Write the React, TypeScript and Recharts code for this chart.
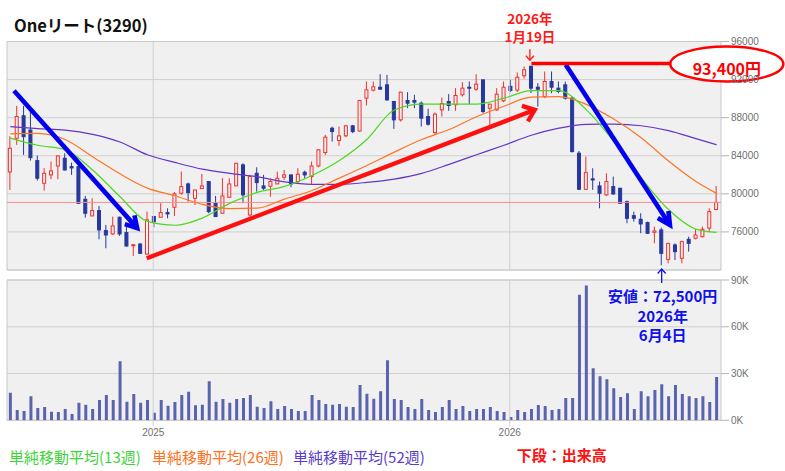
import React from "react";
import {
  ComposedChart,
  Bar,
  Line,
  XAxis,
  YAxis,
  CartesianGrid,
  ReferenceLine,
  ReferenceArea,
  ReferenceDot,
} from "recharts";

// weekly candles, index 0 = mid Aug 2024
const OPEN = [
  82300, 85840, 88200, 86700, 83490, 81110, 81990, 82930, 83740, 82860,
  82860, 79430, 77680, 78240, 76140, 75790, 77540, 75930, 74550, 74730,
  73680, 77610, 77540, 78030, 78590, 80060, 81040, 79530, 80550, 81290,
  79010, 77960, 79640, 80830, 83040, 77780, 82160, 80830, 80800, 81040,
  81740, 81990, 81290, 82270, 81810, 82930, 84340, 86890, 85600, 86090,
  87140, 86600, 90050, 90890, 91200, 91450, 89700, 87770, 89800, 89800,
  89520, 88120, 86440, 88820, 89700, 89350, 90400, 91200, 90990, 91970,
  89000, 88820, 89770, 91300, 90900, 92400, 93400, 91200, 90220, 91800,
  91100, 91450, 90050, 84270, 80480, 81570, 80830, 79890, 80760, 80590,
  79180, 77710, 77330, 76980, 75960, 76210, 73120, 74630, 73230, 75220,
  75330, 75500, 76400, 78350,
];
const HIGH = [
  86050, 89240, 89240, 88820, 84020, 82690, 83390, 84050, 84260, 83280,
  83040, 79780, 79530, 78730, 76730, 77610, 77610, 76630, 74700, 74800,
  78130, 77680, 79010, 78480, 80200, 82340, 81180, 80410, 82090, 81290,
  79780, 81640, 81640, 83210, 83210, 81990, 82790, 81990, 81600, 82340,
  82510, 82000, 82690, 82440, 83390, 84690, 86190, 87070, 87070, 87240,
  87240, 89870, 91800, 91800, 92570, 92500, 89700, 90680, 90680, 90400,
  89700, 88930, 88540, 90120, 90470, 91100, 91730, 91800, 92570, 91970,
  89420, 91100, 91800, 91970, 92750, 93380, 93400, 91620, 92850, 92850,
  91800, 91800, 90220, 84500, 83910, 82690, 81290, 82160, 81810, 80590,
  79290, 78130, 77960, 77080, 76560, 76450, 74800, 74800, 75080, 75500,
  76280, 76560, 78480, 80830,
];
const LOW = [
  80410, 85140, 84090, 83490, 81390, 80340, 81530, 81530, 82440, 81990,
  78940, 77500, 77680, 75220, 74280, 75680, 75580, 74450, 73470, 73680,
  73580, 76490, 77540, 77430, 77680, 79890, 79180, 78830, 80550, 77960,
  77610, 77960, 79640, 80830, 79010, 77610, 80240, 80410, 79700, 81040,
  81460, 80690, 81040, 81640, 81040, 82790, 84090, 85490, 85040, 85950,
  86370, 86540, 89280, 90750, 90990, 89770, 86820, 87590, 89000, 89000,
  87070, 87170, 86260, 88120, 88720, 88720, 90220, 89420, 90820, 88470,
  87170, 88720, 89630, 90680, 90700, 92100, 90600, 89170, 90050, 90570,
  90570, 89900, 84340, 80410, 80410, 80410, 78480, 79780, 79890, 78940,
  76910, 77080, 75860, 75790, 74800, 72500, 72700, 73050, 72700, 73930,
  75220, 75430, 76030, 78350,
];
const CLOSE = [
  84790, 88120, 86000, 83800, 81640, 82160, 82410, 83980, 82510, 82720,
  79010, 77960, 78240, 76210, 75680, 76630, 75790, 74520, 74650, 73750,
  77260, 77080, 78030, 77890, 79990, 80760, 80130, 80410, 80830, 78130,
  77610, 79780, 81040, 83210, 79890, 81810, 81180, 80590, 81300, 81640,
  81990, 81040, 82060, 81990, 82930, 84620, 85950, 86540, 86090, 87140,
  86540, 89800, 90920, 91240, 90990, 89870, 87770, 90680, 89520, 89630,
  87950, 87310, 88370, 89490, 89280, 90330, 91100, 91100, 91520, 88650,
  89420, 90470, 91200, 90850, 92250, 93030, 91100, 90990, 91800, 91200,
  90750, 90050, 84440, 80480, 82230, 81460, 80060, 81290, 79990, 79010,
  77430, 77430, 76840, 75860, 76100, 73750, 74800, 73930, 74980, 74800,
  75680, 76280, 78130, 79100,
];
const VOLUME = [
  17600, 6600, 6000, 15500, 7900, 8500, 5500, 5300, 7200, 4000,
  11300, 10000, 7200, 13000, 16200, 13000, 37900, 11900, 16800, 11300,
  13000, 4900, 13000, 9400, 11700, 16200, 18300, 9600, 10000, 25100,
  11900, 13600, 11300, 13600, 14300, 16200, 8700, 7900, 12300, 7200,
  9100, 7200, 6000, 6000, 16200, 13000, 10400, 10000, 10400, 8700,
  8500, 22600, 17000, 13800, 18700, 38600, 13600, 13000, 8500, 7200,
  13600, 6600, 5300, 8500, 13000, 7200, 9100, 6000, 7200, 7200,
  8500, 6000, 5300, 2100, 6600, 5300, 7200, 9800, 9100, 6600,
  7200, 14300, 14300, 80600, 86400, 33400, 28300, 26400, 20600, 14900,
  17400, 7200, 18700, 15500, 19400, 23200, 15500, 22600, 16800, 15500,
  14300, 15500, 11700, 27700,
];

// moving averages read every 4 weeks
const MA_WEEKS = [0, 4, 8, 12, 16, 20, 24, 28, 32, 36, 40, 44, 48, 52, 56, 60, 64, 68, 72, 76, 80, 84, 88, 92, 96, 100, 103];
const MA13 = [85850, 85100, 84650, 82500, 79700, 77100, 76700, 77450, 79000, 80150, 80780, 81930, 83500, 85700, 88800, 89420, 89420, 89420, 90050, 90850, 90850, 88850, 85500, 81700, 78350, 76300, 75950];
const MA26 = [86300, 86350, 85700, 83900, 82100, 80600, 79800, 78900, 78450, 78500, 79450, 80350, 81650, 82980, 84380, 85700, 86750, 88100, 89200, 90150, 90200, 89400, 87850, 85900, 83450, 81300, 80050];
const MA52 = [87050, 86850, 86700, 86250, 85450, 84100, 83300, 82600, 82150, 81800, 81250, 81000, 81000, 81200, 81550, 82150, 83100, 84100, 85100, 86150, 86900, 87300, 87320, 87150, 86640, 85800, 85150];

const PRICE_TICKS = [72000, 76000, 80000, 84000, 88000, 92000, 96000];
const VOLUME_TICKS = [0, 30000, 60000, 90000];
const YEAR_TICKS = [20.85, 72.84];
const YEAR_LABELS = ["2025", "2026"];
const LAST_PRICE = 79100;
const HIGH_WEEK = 76;
const HIGH_PRICE = 93400;
const LOW_WEEK = 95;

const X_DOMAIN: [number, number] = [-0.48, 103.65];

const RED = "#ee3030";
const BLUE = "#27389d";
const GREEN = "#4cd81e";
const ORANGE = "#ff7622";
const PURPLE = "#6436c8";
const JP = "'Noto Sans CJK JP', sans-serif";
const TICK = { fill: "#707070", fontSize: 10, fontFamily: "'Liberation Sans', Arial, sans-serif" };

type Row = {
  i: number;
  open: number;
  high: number;
  low: number;
  close: number;
  volume: number;
  ma13: number | null;
  ma26: number | null;
  ma52: number | null;
};

const rows: Row[] = OPEN.map((o, i) => ({
  i,
  open: o,
  high: HIGH[i],
  low: LOW[i],
  close: CLOSE[i],
  volume: VOLUME[i],
  ma13: null,
  ma26: null,
  ma52: null,
}));
MA_WEEKS.forEach((w, k) => {
  rows[w].ma13 = MA13[k];
  rows[w].ma26 = MA26[k];
  rows[w].ma52 = MA52[k];
});

function Candle(props: any) {
  const { x, y, width, height, payload } = props;
  if (x == null || payload == null) return null;
  const { open, close, high, low } = payload;
  const top = Math.min(y, y + height);
  const bottom = Math.max(y, y + height);
  const span = high - low || 1;
  const toPx = (v: number) => top + ((high - v) / span) * (bottom - top);
  const up = close >= open;
  const color = up ? RED : BLUE;
  const cx = x + width / 2;
  const bTop = toPx(Math.max(open, close));
  const bBot = toPx(Math.min(open, close));
  return (
    <g>
      <line x1={cx} x2={cx} y1={top} y2={bottom} stroke={color} strokeWidth={1} />
      <rect
        x={x + 0.5}
        y={bTop}
        width={width - 1}
        height={Math.max(bBot - bTop, 1)}
        fill={up ? "#fdeeee" : color}
        stroke={color}
        strokeWidth={1}
      />
    </g>
  );
}

function arrowShape(head: number, spread: number) {
  return (props: any) => {
    const { x1, y1, x2, y2, stroke, strokeWidth } = props;
    const a = Math.atan2(y2 - y1, x2 - x1) + Math.PI;
    const s = (spread * Math.PI) / 180;
    const p1 = [x2 + head * Math.cos(a - s), y2 + head * Math.sin(a - s)];
    const p2 = [x2 + head * Math.cos(a + s), y2 + head * Math.sin(a + s)];
    return (
      <g>
        <line x1={x1} y1={y1} x2={x2} y2={y2} stroke={stroke} strokeWidth={strokeWidth} />
        {head > 0 && (
          <polyline
            points={`${p1[0]},${p1[1]} ${x2},${y2} ${p2[0]},${p2[1]}`}
            fill="none"
            stroke={stroke}
            strokeWidth={strokeWidth}
            strokeLinejoin="miter"
          />
        )}
      </g>
    );
  };
}

function HighNote(props: any) {
  const { cx, cy } = props;
  const tx = cx - 1.5;
  const style = { fontFamily: JP, fontWeight: 700, fontSize: 13.5 };
  return (
    <g>
      <text x={tx} y={cy - 48.5} fill="#ff1a1a" textAnchor="middle" dominantBaseline="central" style={style}>
        2026年
      </text>
      <text x={tx} y={cy - 30} fill="#ff1a1a" textAnchor="middle" dominantBaseline="central" style={style}>
        1月19日
      </text>
      <line x1={tx} y1={cy - 17} x2={tx} y2={cy - 6} stroke="#ff1a1a" strokeWidth={1.3} />
      <polyline
        points={`${tx - 4},${cy - 10.5} ${tx},${cy - 6} ${tx + 4},${cy - 10.5}`}
        fill="none"
        stroke="#ff1a1a"
        strokeWidth={1.3}
      />
    </g>
  );
}

function PriceBubble(props: any) {
  const { cx, cy } = props;
  return (
    <g>
      <ellipse cx={cx} cy={cy} rx={56.5} ry={17.5} fill="#ffffff" stroke="#ff0000" strokeWidth={2.5} />
      <text
        x={cx}
        y={cy + 4}
        fill="#ff0000"
        textAnchor="middle"
        dominantBaseline="central"
        style={{ fontFamily: JP, fontWeight: 700, fontSize: 16 }}
      >
        93,400円
      </text>
    </g>
  );
}

function LowNote(props: any) {
  const { cx, cy } = props;
  const tx = cx + 1;
  const style = { fontFamily: JP, fontWeight: 700, fontSize: 15 };
  return (
    <g>
      <line x1={cx} y1={cy + 3} x2={cx} y2={cy - 11} stroke="#1010ee" strokeWidth={1.3} />
      <polyline
        points={`${cx - 4},${cy - 6.5} ${cx},${cy - 11} ${cx + 4},${cy - 6.5}`}
        fill="none"
        stroke="#1010ee"
        strokeWidth={1.3}
      />
      <text x={tx} y={cy + 15.7} fill="#1010ee" textAnchor="middle" dominantBaseline="central" style={style}>
        安値：72,500円
      </text>
      <text x={tx} y={cy + 35} fill="#1010ee" textAnchor="middle" dominantBaseline="central" style={style}>
        2026年
      </text>
      <text x={tx} y={cy + 54} fill="#1010ee" textAnchor="middle" dominantBaseline="central" style={style}>
        6月4日
      </text>
    </g>
  );
}

function PriceChart() {
  return (
    <ComposedChart
      width={785}
      height={275}
      data={rows}
      margin={{ top: 41.5, right: 0, bottom: 5, left: 7 }}
    >
      <CartesianGrid vertical={false} stroke="#cfcfcf" fill="#f0f0f0" />
      <XAxis dataKey="i" type="number" domain={X_DOMAIN} allowDataOverflow hide />
      <YAxis
        orientation="right"
        domain={[72000, 96000]}
        ticks={PRICE_TICKS}
        allowDataOverflow
        width={64}
        axisLine={false}
        tickSize={8}
        tickLine={{ stroke: "#b5b5b5" }}
        tick={TICK}
      />
      {YEAR_TICKS.map((t) => (
        <ReferenceLine key={t} x={t} stroke="#cfcfcf" />
      ))}
      <ReferenceArea
        x1={X_DOMAIN[0]}
        x2={X_DOMAIN[1]}
        y1={72000}
        y2={96000}
        fill="none"
        stroke="#c8c8c8"
        ifOverflow="visible"
      />
      <ReferenceLine y={LAST_PRICE} stroke="#ff8a8a" strokeWidth={1} />
      <Bar
        dataKey={(d: Row) => [d.low, d.high]}
        barSize={4}
        shape={(p: any) => <Candle {...p} />}
        isAnimationActive={false}
      />
      <Line dataKey="ma52" type="monotone" stroke={PURPLE} strokeWidth={1.2} dot={false} connectNulls isAnimationActive={false} />
      <Line dataKey="ma26" type="monotone" stroke={ORANGE} strokeWidth={1.2} dot={false} connectNulls isAnimationActive={false} />
      <Line dataKey="ma13" type="monotone" stroke={GREEN} strokeWidth={1.2} dot={false} connectNulls isAnimationActive={false} />
      <ReferenceLine
        segment={[{ x: 0.54, y: 90830 }, { x: 18.5, y: 76400 }]}
        stroke="#0000f0"
        strokeWidth={4.6}
        shape={arrowShape(13, 30)}
      />
      <ReferenceLine
        segment={[{ x: 19.9, y: 73230 }, { x: 76.5, y: 88820 }]}
        stroke="#ff1010"
        strokeWidth={4.3}
        shape={arrowShape(13.5, 38)}
      />
      <ReferenceLine
        segment={[{ x: 81, y: 93550 }, { x: 96.2, y: 76730 }]}
        stroke="#0000f0"
        strokeWidth={4.6}
        shape={arrowShape(14, 27)}
      />
      <ReferenceLine
        segment={[{ x: HIGH_WEEK, y: 93700 }, { x: 96.3, y: 93700 }]}
        stroke="#ff0000"
        strokeWidth={3.5}
        shape={arrowShape(0, 0)}
      />
      <ReferenceDot x={HIGH_WEEK} y={HIGH_PRICE} ifOverflow="visible" shape={(p: any) => <HighNote {...p} />} />
      <ReferenceDot x={104.5} y={93635} ifOverflow="visible" shape={(p: any) => <PriceBubble {...p} />} />
    </ComposedChart>
  );
}

function VolumeChart() {
  return (
    <ComposedChart
      width={785}
      height={183}
      data={rows}
      margin={{ top: 18, right: 0, bottom: 0, left: 7 }}
    >
      <CartesianGrid vertical={false} stroke="#cfcfcf" fill="#f0f0f0" />
      <XAxis
        dataKey="i"
        type="number"
        domain={X_DOMAIN}
        allowDataOverflow
        ticks={YEAR_TICKS}
        tickFormatter={(v: number) => YEAR_LABELS[YEAR_TICKS.indexOf(v)] ?? ""}
        height={24.7}
        axisLine={false}
        tickSize={6}
        tickMargin={3}
        tickLine={{ stroke: "#cfcfcf" }}
        tick={TICK}
        interval={0}
      />
      <YAxis
        orientation="right"
        domain={[0, 90000]}
        ticks={VOLUME_TICKS}
        allowDataOverflow
        width={64}
        axisLine={false}
        tickSize={8}
        tickLine={{ stroke: "#b5b5b5" }}
        tick={TICK}
        tickFormatter={(v: number) => `${v / 1000}K`}
      />
      {YEAR_TICKS.map((t) => (
        <ReferenceLine key={t} x={t} stroke="#cfcfcf" />
      ))}
      <ReferenceArea
        x1={X_DOMAIN[0]}
        x2={X_DOMAIN[1]}
        y1={0}
        y2={90000}
        fill="none"
        stroke="#c8c8c8"
        ifOverflow="visible"
      />
      <Bar dataKey="volume" barSize={3} fill="#5a63ae" isAnimationActive={false} />
      <ReferenceDot x={LOW_WEEK} y={90000} ifOverflow="visible" shape={(p: any) => <LowNote {...p} />} />
    </ComposedChart>
  );
}

const legendItems = [
  { label: "単純移動平均(13週)", color: "#3fd23a", left: 9 },
  { label: "単純移動平均(26週)", color: "#ff7020", left: 152 },
  { label: "単純移動平均(52週)", color: "#5a3cc8", left: 293 },
];

export default function App() {
  return (
    <div
      style={{
        position: "absolute",
        left: 0,
        top: 0,
        width: 785,
        height: 471,
        background: "#ffffff",
        fontFamily: JP,
        overflow: "hidden",
      }}
    >
      <div style={{ position: "absolute", left: 0, top: 0 }}>
        <PriceChart />
      </div>
      <div style={{ position: "absolute", left: 0, top: 262 }}>
        <VolumeChart />
      </div>
      <div
        style={{
          position: "absolute",
          left: 14,
          top: 14.5,
          fontSize: 16.5,
          lineHeight: "20px",
          fontWeight: 700,
          color: "#111",
          whiteSpace: "nowrap",
        }}
      >
        Oneリート(3290)
      </div>
      {legendItems.map((it) => (
        <span
          key={it.label}
          style={{
            position: "absolute",
            left: it.left,
            top: 446.7,
            fontSize: 15,
            lineHeight: "20px",
            color: it.color,
            whiteSpace: "nowrap",
          }}
        >
          {it.label}
        </span>
      ))}
      <span
        style={{
          position: "absolute",
          left: 516.7,
          top: 445,
          fontSize: 15,
          lineHeight: "20px",
          fontWeight: 700,
          color: "#ff1010",
          whiteSpace: "nowrap",
        }}
      >
        下段：出来高
      </span>
    </div>
  );
}
